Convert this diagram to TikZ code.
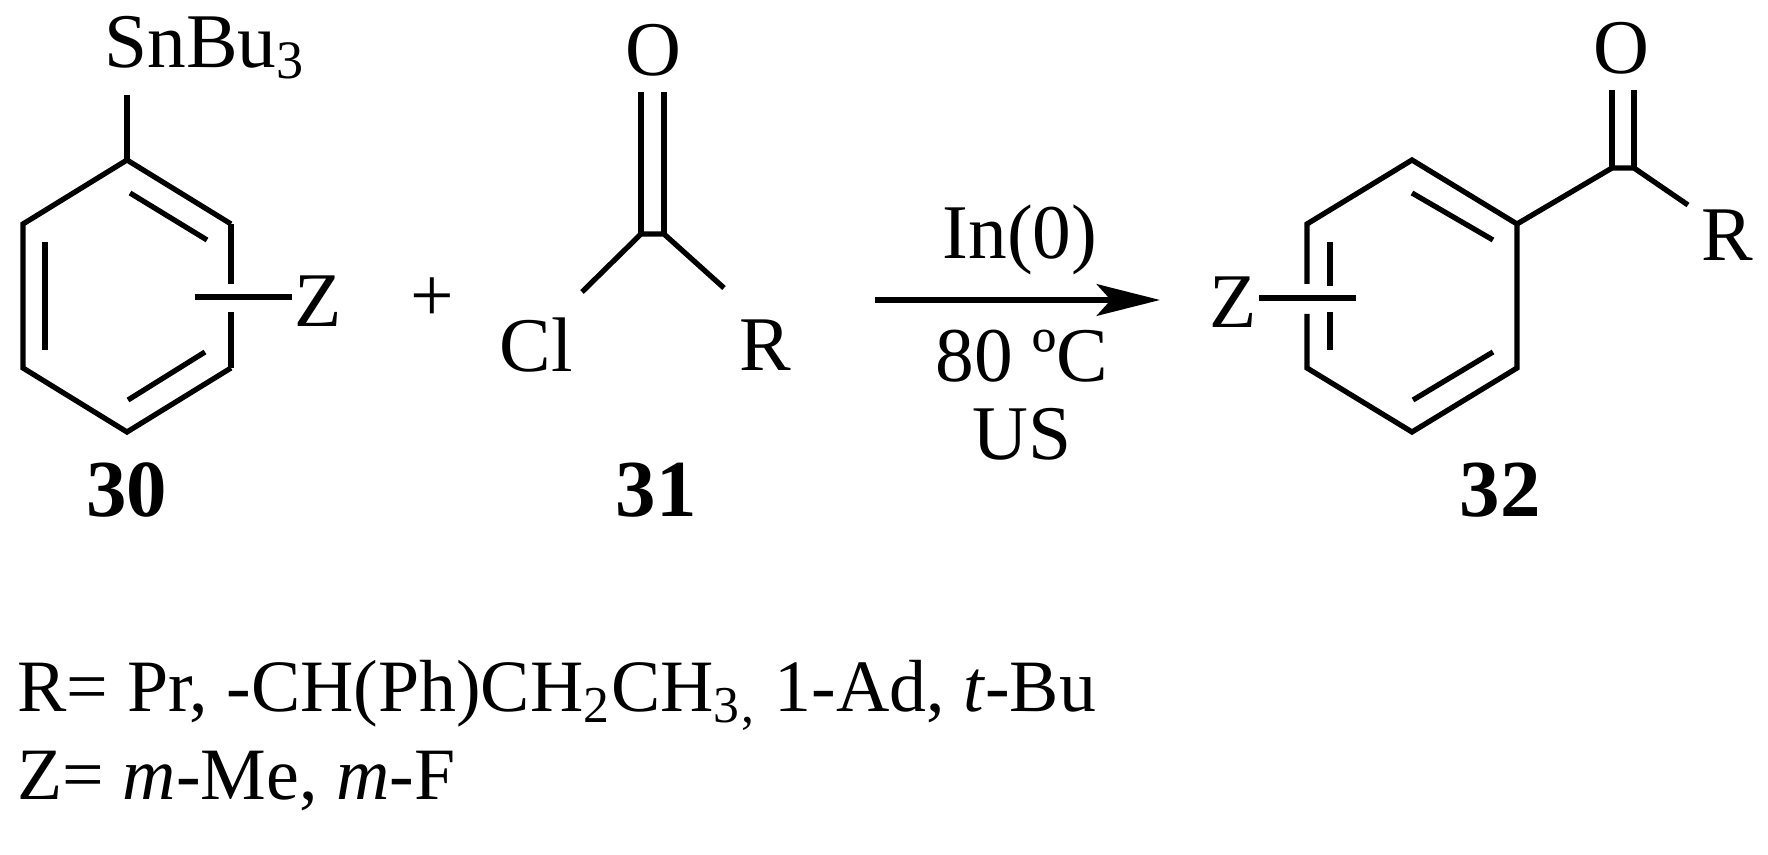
\documentclass[tikz,border=0pt]{standalone}
\usepackage{fontspec}
\setmainfont{Liberation Serif}
\usetikzlibrary{arrows.meta}
\begin{document}
\begin{tikzpicture}[x=0.01cm,y=-0.01cm,line width=1.5pt,
  lbl/.style={font=\fontsize{22}{26}\selectfont,inner sep=0pt},
  foot/.style={font=\fontsize{21}{25}\selectfont,inner sep=0pt},
  num/.style={font=\fontsize{23}{27}\selectfont\bfseries,inner sep=0pt}]
\useasboundingbox (0,0) rectangle (1768,855);
% ring 30
\coordinate (a1) at (127,160); \coordinate (a2) at (231,224);
\coordinate (a3) at (231,368); \coordinate (a4) at (127,432);
\coordinate (a5) at (23,368); \coordinate (a6) at (23,224);
\draw (a2)--(a1)--(a6)--(a5)--(a4)--(a3);
\draw (a2) -- (231,284); \draw (231,312) -- (a3);
\coordinate (i1) at (130,193); \coordinate (i2) at (207,240);
\draw (i1) -- (i2);
\coordinate (i3) at (45,242); \coordinate (i4) at (45,350);
\draw (i3) -- (i4);
\coordinate (i5) at (128,400); \coordinate (i6) at (205,352);
\draw (i5) -- (i6);
\node[lbl] (sn) at (205,48) {SnBu\textsubscript{3}};
\coordinate (snb) at (127,95);
\draw (snb) -- (a1);
\node[lbl] (z1) at (318,301) {Z};
\coordinate (z1s) at (195,297);
\draw (z1s) -- (z1.west|-z1s);
\node[lbl] (plus) at (432,300) {+};
\node[num] (n30) at (127,490) {30};
% 31
\node[lbl] (o31) at (653,50) {O};
\coordinate (c31) at (652,232);
\draw (641,92) -- (641,234); \draw (664,92) -- (664,234);
\coordinate (cl31b) at (582,292); \coordinate (r31b) at (724,288);
\draw (cl31b) -- (641,234) -- (664,234) -- (r31b);
\node[lbl] (cl) at (536,345) {Cl};
\node[lbl] (r31) at (765,345) {R};
\node[num] (n31) at (656,490) {31};
% arrow
\coordinate (arS) at (875,300); \coordinate (arE) at (1160,300);
\draw[-{Stealth[length=18pt,width=9pt,inset=4pt]}] (arS) -- (arE);
\node[lbl] (in) at (1020,240) {In(0)};
\node[lbl] (t) at (1022,356) {80 ºC};
\node[lbl] (us) at (1022,434) {US};
% ring 32
\coordinate (b1) at (1412,160); \coordinate (b2) at (1517,224);
\coordinate (b3) at (1517,368); \coordinate (b4) at (1412,432);
\coordinate (b5) at (1307,368); \coordinate (b6) at (1307,224);
\draw (1307,284) -- (b6)--(b1)--(b2)--(b3)--(b4)--(b5) -- (1307,314);
\draw (1412,193) -- (1493,240);
\draw (1413,400) -- (1493,352);
\draw (1330,242) -- (1330,286); \draw (1330,312) -- (1330,350);
\node[lbl] (z2) at (1233,302) {Z};
\coordinate (z2e) at (1356,298);
\draw (z2.east|-z2e) -- (z2e);
\node[lbl] (o32) at (1621,48) {O};
\coordinate (c32) at (1623,163);
\draw (1612,90) -- (1612,168); \draw (1634,90) -- (1634,168);
\coordinate (r32b) at (1688,205);
\draw (b2) -- (1612,168) -- (1634,168) -- (r32b);
\node[lbl] (r32) at (1727,235) {R};
\node[num] (n32) at (1500,490) {32};
% footnotes
\node[foot,anchor=base west] (rl) at (15,712) {R= Pr, -CH(Ph)CH\textsubscript{2}CH\textsubscript{3}\textsubscript{,} 1-Ad, \textit{t}-Bu};
\node[foot,anchor=base west] (zl) at (15,800) {Z= \textit{m}-Me, \textit{m}-F};
\end{tikzpicture}
\end{document}
